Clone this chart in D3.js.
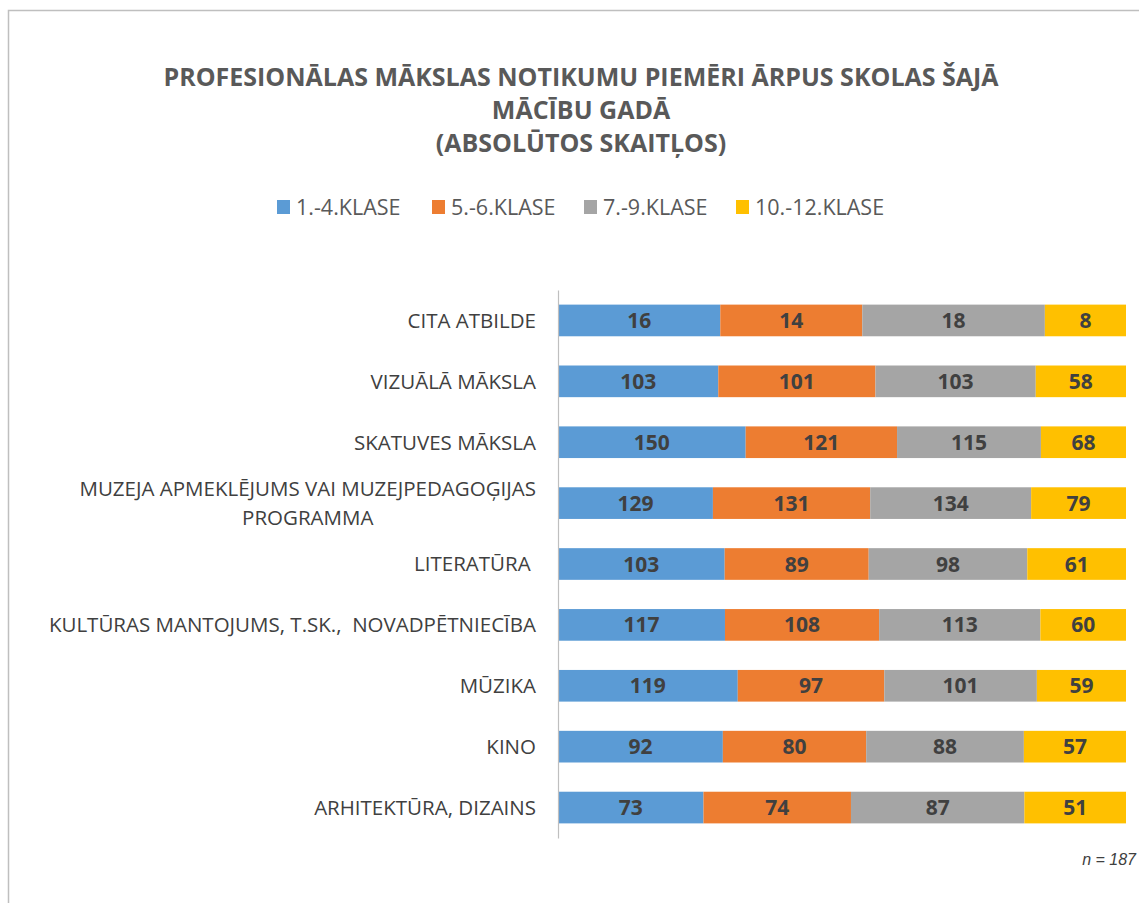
<!DOCTYPE html>
<html>
<head>
<meta charset="utf-8">
<script src="https://cdn.jsdelivr.net/npm/d3@7"></script>
<style>
  body { margin: 0; background: #fff; }
  svg { display: block; }
</style>
</head>
<body>
<div id="chart"></div>
<script>
// chart data, categories listed top to bottom
var categories = [
    "CITA ATBILDE",
    "VIZUĀLĀ MĀKSLA",
    "SKATUVES MĀKSLA",
    "MUZEJA APMEKLĒJUMS VAI MUZEJPEDAGOĢIJAS|PROGRAMMA",
    "LITERATŪRA ",
    "KULTŪRAS MANTOJUMS, T.SK.,  NOVADPĒTNIECĪBA",
    "MŪZIKA",
    "KINO",
    "ARHITEKTŪRA, DIZAINS"
];
var seriesNames = ["1.-4.KLASE", "5.-6.KLASE", "7.-9.KLASE", "10.-12.KLASE"];
var klase1_4 = [16, 103, 150, 129, 103, 117, 119, 92, 73];
var klase5_6 = [14, 101, 121, 131, 89, 108, 97, 80, 74];
var klase7_9 = [18, 103, 115, 134, 98, 113, 101, 88, 87];
var klase10_12 = [8, 58, 68, 79, 61, 60, 59, 57, 51];
var titleLines = ["PROFESIONĀLAS MĀKSLAS NOTIKUMU PIEMĒRI ĀRPUS SKOLAS ŠAJĀ", "MĀCĪBU GADĀ", "(ABSOLŪTOS SKAITĻOS)"];
var noteText = "n = 187";

var colors = ["#5B9BD5", "#ED7D31", "#A5A5A5", "#FFC000"];
var font = "'Open Sans', Lato, sans-serif";

var W = 1139, H = 903;
var margin = { top: 290, right: 13, bottom: 65, left: 558 };
var width = W - margin.left - margin.right,
    height = H - margin.top - margin.bottom;

// build rows for the stack
var series = [klase1_4, klase5_6, klase7_9, klase10_12];
var rows = categories.map(function (c, i) {
    var r = { cat: c };
    seriesNames.forEach(function (s, j) { r[s] = series[j][i]; });
    return r;
});
var stacked = d3.stack().keys(seriesNames).offset(d3.stackOffsetExpand)(rows);

var svg = d3.select("#chart").append("svg")
    .attr("width", W)
    .attr("height", H);

// outer frame (only left and top visible in the original)
svg.append("path")
    .attr("d", "M8.5," + (H + 5) + "V10.5H" + (W + 5))
    .attr("fill", "none")
    .attr("stroke", "#bfbfbf")
    .attr("stroke-width", 1.5);

// title
svg.append("text")
    .attr("text-anchor", "middle")
    .style("font-family", font)
    .style("font-size", "25px")
    .style("font-weight", "bold")
    .attr("fill", "#595959")
    .selectAll("tspan")
    .data(titleLines)
    .enter().append("tspan")
    .attr("x", 581)
    .attr("y", function (d, i) { return 86 + i * 33; })
    .text(function (d) { return d; });

// legend
var legendX = [277, 432, 584, 736];
var legend = svg.append("g").selectAll("g")
    .data(seriesNames)
    .enter().append("g")
    .attr("transform", function (d, i) { return "translate(" + legendX[i] + ",200)"; });
legend.append("rect")
    .attr("width", 13).attr("height", 14)
    .attr("fill", function (d, i) { return colors[i]; });
legend.append("text")
    .attr("x", 19).attr("y", 14.5)
    .style("font-family", font)
    .style("font-size", "21.5px")
    .attr("fill", "#595959")
    .text(function (d) { return d; });

var g = svg.append("g")
    .attr("transform", "translate(" + margin.left + "," + margin.top + ")");

var y = d3.scaleBand()
    .domain(categories)
    .range([0, height])
    .paddingInner(0.48)
    .paddingOuter(0.24);

var x = d3.scaleLinear()
    .domain([0, 1])
    .range([0, width]);

// bars
var layer = g.selectAll(".layer")
    .data(stacked)
    .enter().append("g")
    .attr("class", "layer")
    .attr("fill", function (d, i) { return colors[i]; });

layer.selectAll("rect")
    .data(function (d) { return d; })
    .enter().append("rect")
    .attr("x", function (d) { return x(d[0]); })
    .attr("y", function (d) { return y(d.data.cat); })
    .attr("width", function (d) { return x(d[1]) - x(d[0]); })
    .attr("height", y.bandwidth());

// data labels
layer.selectAll("text")
    .data(function (d) { return d.map(function (p) { p.key = d.key; return p; }); })
    .enter().append("text")
    .attr("x", function (d) { return (x(d[0]) + x(d[1])) / 2; })
    .attr("y", function (d) { return y(d.data.cat) + y.bandwidth() / 2; })
    .attr("dy", "0.36em")
    .attr("text-anchor", "middle")
    .style("font-family", font)
    .style("font-size", "21px")
    .style("font-weight", "bold")
    .attr("fill", "#404040")
    .text(function (d) { return d.data[d.key]; });

// category axis
var yAxis = g.append("g")
    .call(d3.axisLeft(y).tickSize(0).tickPadding(22).tickFormat(""));
yAxis.select(".domain").attr("stroke", "#bfbfbf").attr("stroke-width", 1.2);

// category labels (multi-line ones are centered under each other)
yAxis.selectAll(".tick").each(function (d) {
    var lines = d.split("|");
    var t = d3.select(this).append("text")
        .style("font-family", font)
        .style("font-size", "20.5px")
        .style("white-space", "pre")
        .attr("fill", "#404040");
    if (lines.length === 1) {
        t.attr("x", -22).attr("dy", "0.36em").attr("text-anchor", "end").text(d);
    } else {
        var tmp = t.append("tspan").text(lines[0]);
        var w = tmp.node().getComputedTextLength();
        tmp.remove();
        t.attr("text-anchor", "middle");
        lines.forEach(function (l, i) {
            t.append("tspan")
                .attr("x", -22 - w / 2)
                .attr("y", (i - (lines.length - 1) / 2) * 30)
                .attr("dy", "0.36em")
                .text(l);
        });
    }
});

// note
svg.append("text")
    .attr("x", 1136)
    .attr("y", 865)
    .attr("text-anchor", "end")
    .style("font-family", "'Liberation Sans', Arial, sans-serif")
    .style("font-size", "16px")
    .style("font-style", "italic")
    .attr("fill", "#404040")
    .text(noteText);
</script>
</body>
</html>
